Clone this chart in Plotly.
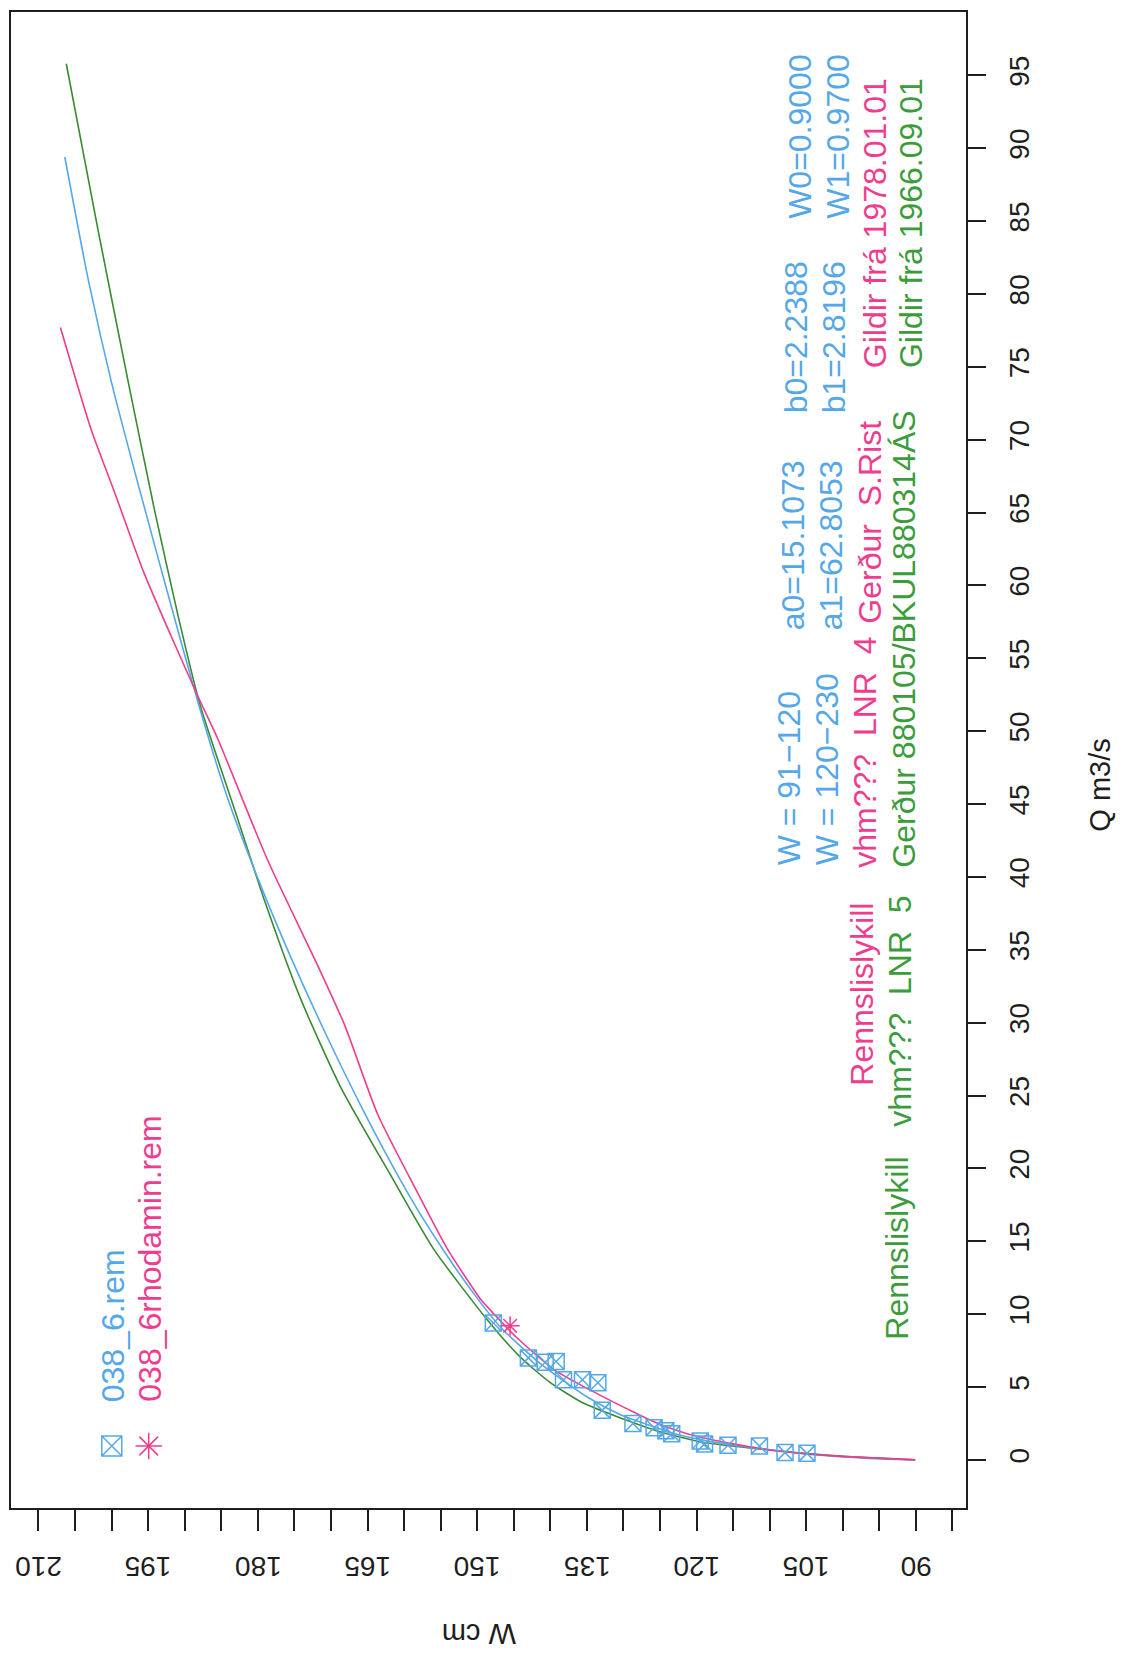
import plotly.graph_objects as go

# ---------------- data ----------------
# Blue rating curve (038_6.rem : W = 91-120 / 120-230)
blue_W = [90.1, 97.0, 104.0, 110.0, 115.4, 120.0, 122.6, 126.0, 130.4, 134.9, 141.1, 146.8,
          150.9, 154.5, 157.7, 160.5, 165.4, 170.4, 175.5, 180.0, 184.2, 188.2, 192.4,
          196.4, 200.0, 203.2, 206.4]
blue_Q = [0.0, 0.12, 0.35, 0.7, 1.05, 1.45, 1.75, 2.3, 3.1, 4.3, 6.5, 9.1,
          11.7, 14.3, 16.8, 19.2, 23.8, 28.9, 34.5, 39.9, 45.5, 52.0, 59.6,
          67.0, 73.9, 81.0, 89.4]

# Pink rating curve (vhm??? LNR 4, Gildir frá 1978.01.01)
pink_W = [90.1, 101.3, 109.5, 115.0, 121.3, 126.0, 128.7, 134.2, 139.5, 144.6, 147.5, 149.5,
          154.1, 157.7, 163.6, 168.1, 171.7, 178.7, 185.5, 188.2, 191.4, 195.6, 199.6,
          202.8, 207.0]
pink_Q = [0.0, 0.28, 0.65, 1.1, 1.8, 2.65, 3.3, 4.7, 6.2, 8.4, 9.9, 11.0,
          14.5, 17.9, 23.7, 29.8, 33.8, 41.2, 49.5, 52.4, 56.0, 60.9, 66.4,
          70.7, 77.7]

# Green rating curve (vhm??? LNR 5, Gildir frá 1966.09.01)
green_W = [90.1, 101.3, 110.4, 119.5, 125.5, 130.0, 135.5, 140.0, 144.2, 148.6, 156.0,
           161.8, 168.7, 174.2, 179.1, 183.1, 187.9, 190.9, 194.1, 197.7, 201.9, 206.2]
green_Q = [0.0, 0.3, 0.7, 1.25, 2.0, 2.8, 3.9, 5.3, 7.1, 9.6, 14.5,
           19.5, 25.6, 31.7, 38.4, 44.5, 51.8, 57.9, 65.1, 73.9, 84.5, 95.8]

# Measurements 038_6.rem
meas_W = [147.8, 143.0, 140.7, 139.2, 138.2, 135.6, 133.5, 132.9, 128.7, 125.8, 124.2,
          123.4, 119.5, 118.9, 115.7, 111.4, 107.9, 104.9]
meas_Q = [9.4, 7.0, 6.7, 6.75, 5.5, 5.5, 5.3, 3.4, 2.5, 2.2, 2.0,
          1.8, 1.3, 1.1, 1.0, 0.95, 0.5, 0.45]

# Measurement 038_6rhodamin.rem
rhod_W = [145.5]
rhod_Q = [9.2]

# Axis ticks
W_tick_labels = [90, 105, 120, 135, 150, 165, 180, 195, 210]
W_minor_step = 5
Q_step = 5

# ---------------- styling / layout ----------------
BLUE = "#55a8e8"
PINK = "#ee3d8f"
GREEN_TXT = "#3c9c3c"
GREEN_LINE = "#3a8a34"
INK = "#1e1e1e"
FONT = "Liberation Sans, Arial, Helvetica, sans-serif"

FIG_W, FIG_H = 1128, 1658
L, R, T, B = 1, 958, 4, 1500           # plot box in pixels
W_RANGE = [213.76, 83.15]              # left -> right (reversed)
Q_RANGE = [-3.30, 99.35]               # bottom -> top


def pxx(px):
    return (px - L) / (R - L)


def pxy(py):
    return 1 - (py - T) / (B - T)


def w_at(px):
    return W_RANGE[0] + (W_RANGE[1] - W_RANGE[0]) * pxx(px)


def q_at(py):
    return Q_RANGE[0] + (Q_RANGE[1] - Q_RANGE[0]) * pxy(py)


fig = go.Figure()

for Wv, Qv, col in [(green_W, green_Q, GREEN_LINE), (blue_W, blue_Q, BLUE), (pink_W, pink_Q, PINK)]:
    fig.add_trace(go.Scatter(x=Wv, y=Qv, mode="lines",
                             line=dict(color=col, width=1.6, shape="spline", smoothing=0.6),
                             hoverinfo="skip"))

fig.add_trace(go.Scatter(x=meas_W, y=meas_Q, mode="markers",
                         marker=dict(symbol="square-x-open", size=16, color=BLUE,
                                     line=dict(color=BLUE, width=1.5))))
fig.add_trace(go.Scatter(x=rhod_W, y=rhod_Q, mode="markers",
                         marker=dict(symbol="asterisk-open", size=16, color=PINK,
                                     line=dict(color=PINK, width=1.5))))

# legend symbols (top-left corner of the rotated page)
fig.add_trace(go.Scatter(x=[w_at(102)], y=[q_at(1438)], mode="markers",
                         marker=dict(symbol="square-x-open", size=20, color=BLUE,
                                     line=dict(color=BLUE, width=1.5))))
fig.add_trace(go.Scatter(x=[w_at(139)], y=[q_at(1438)], mode="markers",
                         marker=dict(symbol="asterisk-open", size=22, color=PINK,
                                     line=dict(color=PINK, width=1.5))))

annos = []


def vtext(text, px, py, color, size=32, anchor="bottom"):
    annos.append(dict(text=text, x=pxx(px), y=pxy(py), xref="paper", yref="paper",
                      textangle=-90, showarrow=False, xanchor="center", yanchor=anchor,
                      font=dict(family=FONT, size=size, color=color)))


# legend texts
vtext("038_6.rem", 103, 1396, BLUE)
vtext("038_6rhodamin.rem", 140, 1396, PINK)

# blue equation block
vtext("W = 91\u2212120", 781, 859, BLUE)
vtext("a0=15.1073", 785, 624, BLUE)
vtext("b0=2.2388", 788, 407, BLUE)
vtext("W0=0.9000", 792, 213, BLUE)
vtext("W = 120\u2212230", 819, 859, BLUE)
vtext("a1=62.8053", 823, 624, BLUE)
vtext("b1=2.8196", 826, 407, BLUE)
vtext("W1=0.9700", 830, 213, BLUE)

# pink key
vtext("Rennslislykill", 853, 893, PINK, anchor="top")
vtext("vhm???  LNR  4", 857, 862, PINK)
vtext("Ger\u00f0ur  S.Rist", 861, 618, PINK)
vtext("Gildir fr\u00e1 1978.01.01", 867, 362, PINK)

# green key
vtext("Rennslislykill", 888, 1147, GREEN_TXT, anchor="top")
vtext("vhm???  LNR  5", 891, 1121, GREEN_TXT)
vtext("Ger\u00f0ur 880105/BKUL880314\u00c1S", 896, 862, GREEN_TXT)
vtext("Gildir fr\u00e1 1966.09.01", 903, 362, GREEN_TXT)

# W tick labels (upside down, as on the rotated page)
for v in W_tick_labels:
    annos.append(dict(text=str(v), x=v, y=pxy(1559), xref="x", yref="paper",
                      textangle=180, showarrow=False, xanchor="center", yanchor="middle",
                      font=dict(family=FONT, size=28, color=INK)))

# axis titles
annos.append(dict(text="Q m3/s", x=pxx(1092), y=pxy(777), xref="paper", yref="paper",
                  textangle=-90, showarrow=False, xanchor="center", yanchor="middle",
                  font=dict(family=FONT, size=29, color=INK)))
annos.append(dict(text="W cm", x=pxx(470), y=pxy(1626), xref="paper", yref="paper",
                  textangle=180, showarrow=False, xanchor="center", yanchor="middle",
                  font=dict(family=FONT, size=29, color=INK)))

fig.update_layout(
    width=FIG_W, height=FIG_H,
    margin=dict(l=L, r=FIG_W - R, t=T, b=FIG_H - B, pad=0),
    paper_bgcolor="white", plot_bgcolor="white",
    showlegend=False,
    font=dict(family=FONT, size=28, color=INK),
    annotations=annos,
    xaxis=dict(range=W_RANGE, autorange=False, tickmode="array", tickvals=W_tick_labels,
               showticklabels=False,
               ticks="outside", ticklen=21, tickwidth=1.5, tickcolor=INK,
               minor=dict(tick0=90, dtick=W_minor_step, ticks="outside", ticklen=21,
                          tickwidth=1.5, tickcolor=INK, showgrid=False),
               showgrid=False, zeroline=False, showline=True, linecolor=INK, linewidth=1.6,
               mirror=True),
    yaxis=dict(range=Q_RANGE, autorange=False, side="right", tickmode="linear", tick0=0,
               dtick=Q_step, ticks="outside", ticklen=18, tickwidth=1.5, tickcolor=INK,
               tickangle=-90, ticklabelstandoff=10,
               tickfont=dict(family=FONT, size=28, color=INK),
               showgrid=False, zeroline=False, showline=True, linecolor=INK, linewidth=1.6,
               mirror=True),
)

fig.write_html("out.html")
